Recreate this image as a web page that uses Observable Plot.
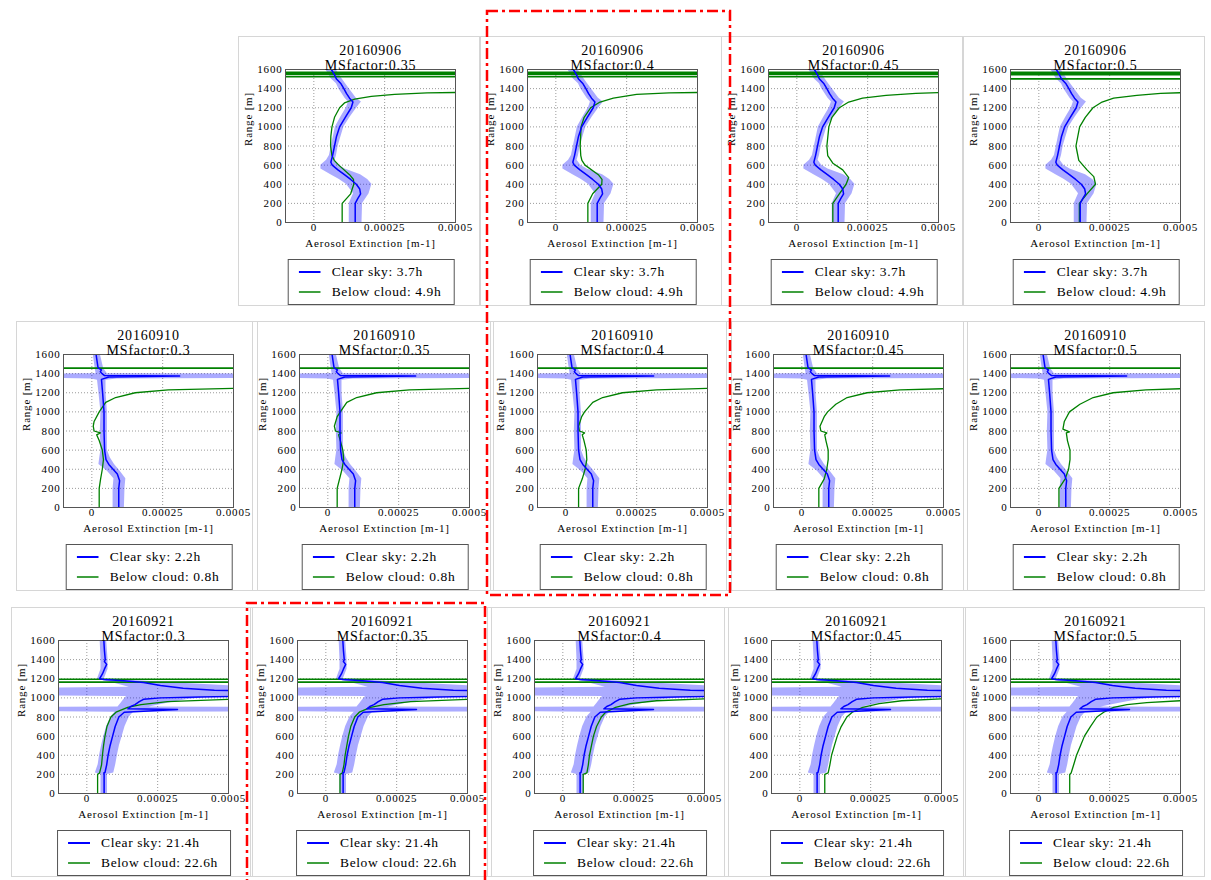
<!DOCTYPE html>
<html><head><meta charset="utf-8">
<script src="https://cdn.jsdelivr.net/npm/d3@7"></script>
<script src="https://cdn.jsdelivr.net/npm/@observablehq/plot@0.6"></script>
<style>
body{margin:0;background:#fff;}
#fig{position:relative;width:1211px;height:880px;overflow:hidden;font-family:"Liberation Serif",serif;background:#fff;}
.pframe{position:absolute;border:1px solid #d6d6d6;box-sizing:border-box;}
.plot{position:absolute;}
.legend{position:absolute;border:1px solid #555;background:#fff;padding:2px 12px 2px 10px;font-size:13.5px;letter-spacing:0.6px;transform:translateX(-50%);white-space:nowrap;box-sizing:border-box;font-family:"Liberation Serif",serif;}
.legend .row{display:flex;align-items:center;height:20px;}
.legend svg{margin-right:11px;display:block;}
#overlay{position:absolute;left:0;top:0;pointer-events:none;}
</style></head>
<body>
<div id="fig"></div>
<script>
// ---------------- DATA (extinction in units of 1e-4 m-1, range in m) ----------------
const dates = ["20160906", "20160910", "20160921"];
const msFactors = [0.3, 0.35, 0.4, 0.45, 0.5];
const clearHours = ["3.7", "2.2", "21.4"];
const belowHours = ["4.9", "0.8", "22.6"];
const xTicks = [0, 2.5, 5];
const xTickLabels = ["0", "0.00025", "0.0005"];
const yTicks = [0, 200, 400, 600, 800, 1000, 1200, 1400, 1600];

// clear sky mean profile [range, value]
const clearLine0906 = [[0,1.46],[200,1.46],[250,1.55],[300,1.65],[350,1.62],[400,1.50],[450,1.30],[500,1.08],[550,0.85],[600,0.65],[630,0.60],[700,0.66],[800,0.73],[900,0.80],[1000,0.91],[1100,1.11],[1200,1.32],[1260,1.38],[1300,1.26],[1350,1.15],[1400,1.06],[1450,0.96],[1500,0.80],[1550,0.72],[1600,0.62]];
const clearLine0910 = [[0,0.95],[200,0.95],[280,0.98],[350,0.90],[400,0.75],[450,0.60],[500,0.50],[600,0.45],[800,0.43],[1000,0.43],[1200,0.38],[1340,0.34],[1365,0.60],[1375,3.10],[1380,0.45],[1400,0.36],[1420,0.30],[1440,0.34],[1460,0.22],[1500,0.20],[1600,0.15]];
const clearLine0921 = [[0,0.61],[200,0.61],[215,0.60],[220,0.64],[300,0.70],[400,0.75],[500,0.82],[600,0.91],[700,1.00],[800,1.13],[850,1.32],[878,3.20],[885,1.45],[910,1.55],[930,1.70],[960,1.85],[985,2.00],[1000,2.60],[1010,4.00],[1020,6.50],[1070,6.50],[1080,4.50],[1100,3.40],[1130,2.60],[1160,2.00],[1180,1.30],[1192,0.60],[1200,0.45],[1250,0.55],[1300,0.62],[1350,0.70],[1380,0.62],[1400,0.65],[1500,0.62],[1600,0.60]];
// clear sky spread [range, low, high]
const clearBand0906 = [[0,1.25,1.70],[200,1.25,1.72],[300,1.40,1.95],[400,1.15,2.05],[450,0.90,1.90],[500,0.60,1.65],[560,0.25,1.10],[600,0.25,0.88],[650,0.45,0.75],[700,0.55,0.80],[800,0.62,0.86],[1000,0.76,1.06],[1100,0.95,1.28],[1200,1.15,1.52],[1260,1.22,1.68],[1300,1.10,1.50],[1400,0.88,1.25],[1450,0.80,1.12],[1500,0.62,1.00],[1600,0.42,0.78]];
const clearBand0910 = [[0,0.75,1.15],[200,0.75,1.17],[300,0.78,1.20],[380,0.55,1.00],[450,0.25,0.80],[520,0.28,0.65],[600,0.32,0.55],[800,0.30,0.55],[1000,0.32,0.55],[1200,0.25,0.50],[1330,0.20,0.50],[1345,0.00,0.90],[1352,-2,8],[1392,-2,8],[1400,0.15,0.55],[1450,0.12,0.42],[1600,0.05,0.30]];
const clearBand0921 = [[0,0.50,0.73],[200,0.50,0.73],[215,0.30,0.95],[300,0.40,1.02],[400,0.45,1.08],[500,0.52,1.15],[600,0.60,1.25],[700,0.70,1.35],[800,0.85,1.50],[850,1.00,1.65],[856,-2,8],[900,-2,8],[905,1.10,2.20],[940,1.20,2.80],[980,1.30,3.50],[1015,1.40,4.50],[1022,-2,8],[1100,-2,8],[1110,1.50,6.00],[1150,1.00,3.50],[1180,0.60,1.80],[1195,0.35,0.90],[1200,0.38,0.62],[1300,0.50,0.75],[1400,0.50,0.75],[1600,0.47,0.70]];
// below cloud profiles [range, value]
const below0906_035 = [[0,1.00],[200,1.00],[250,1.15],[300,1.30],[400,1.41],[450,1.40],[500,1.26],[600,0.88],[650,0.72],[700,0.64],[800,0.59],[900,0.60],[1000,0.64],[1100,0.73],[1200,0.91],[1250,1.08],[1290,1.44],[1320,2.03],[1340,2.85],[1355,4.0],[1362,5.5]];
const below0906_040 = [[0,1.13],[200,1.13],[300,1.30],[400,1.62],[450,1.63],[500,1.50],[600,1.03],[650,0.92],[700,0.88],[800,0.86],[1000,0.89],[1100,1.00],[1200,1.23],[1260,1.56],[1300,2.03],[1340,2.85],[1355,4.0],[1362,5.5]];
const below0906_045 = [[0,1.27],[200,1.27],[300,1.50],[400,1.74],[470,1.83],[550,1.62],[620,1.27],[700,1.09],[800,1.06],[1000,1.13],[1100,1.24],[1200,1.50],[1260,1.83],[1300,2.32],[1330,3.15],[1350,4.2],[1362,5.5]];
const below0906_050 = [[0,1.43],[200,1.43],[300,1.70],[400,2.00],[480,1.94],[550,1.70],[650,1.41],[800,1.31],[1000,1.44],[1100,1.64],[1200,1.91],[1260,2.23],[1300,2.64],[1330,3.46],[1350,4.3],[1362,5.5]];
const below0910_030 = [[0,0.26],[200,0.26],[300,0.31],[400,0.37],[500,0.41],[600,0.37],[700,0.26],[760,0.17],[780,0.30],[800,0.08],[850,0.05],[900,0.08],[1000,0.26],[1100,0.49],[1150,0.84],[1200,1.53],[1230,2.7],[1245,5.0],[1255,8]];
const below0910_035 = [[0,0.33],[200,0.33],[400,0.50],[500,0.56],[600,0.53],[700,0.44],[760,0.38],[780,0.47],[800,0.27],[850,0.23],[950,0.33],[1000,0.44],[1100,0.67],[1150,1.02],[1200,1.72],[1230,2.88],[1245,5.0],[1255,8]];
const below0910_040 = [[0,0.45],[200,0.45],[300,0.58],[400,0.68],[500,0.74],[600,0.72],[700,0.64],[760,0.58],[780,0.66],[800,0.48],[850,0.45],[950,0.56],[1000,0.66],[1100,0.95],[1150,1.30],[1200,2.00],[1230,3.2],[1245,5.0],[1255,8]];
const below0910_045 = [[0,0.60],[200,0.60],[300,0.79],[400,0.88],[500,0.93],[600,0.93],[700,0.85],[760,0.81],[780,0.88],[800,0.67],[850,0.64],[950,0.79],[1000,0.91],[1080,1.20],[1150,1.60],[1200,2.30],[1230,3.47],[1242,5.0],[1252,8]];
const below0910_050 = [[0,0.71],[200,0.71],[300,0.93],[400,1.05],[500,1.10],[600,1.10],[700,1.01],[780,0.97],[790,1.08],[820,0.85],[900,0.90],[1000,1.08],[1080,1.45],[1150,1.92],[1200,2.62],[1230,3.78],[1242,5.0],[1252,8]];
const below0921_030 = [[0,0.38],[200,0.38],[215,0.45],[300,0.52],[400,0.55],[500,0.59],[600,0.64],[700,0.71],[800,0.85],[850,1.03],[900,1.44],[930,1.91],[960,2.85],[985,5.0],[995,8]];
const below0921_035 = [[0,0.50],[200,0.50],[215,0.58],[300,0.64],[400,0.68],[500,0.74],[600,0.80],[700,0.88],[800,1.02],[850,1.18],[900,1.58],[930,2.05],[960,3.0],[985,5.0],[995,8]];
const below0921_040 = [[0,0.72],[200,0.72],[215,0.85],[300,0.90],[400,0.94],[500,1.01],[600,1.08],[700,1.19],[800,1.36],[850,1.51],[900,1.86],[940,2.38],[970,3.31],[990,5.0],[1000,8]];
const below0921_045 = [[0,0.88],[200,0.88],[215,1.00],[300,1.06],[400,1.12],[500,1.22],[600,1.32],[700,1.46],[800,1.66],[850,1.85],[900,2.22],[940,2.80],[970,3.6],[990,5.0],[1000,8]];
const below0921_050 = [[0,1.09],[200,1.09],[215,1.14],[300,1.23],[400,1.33],[500,1.47],[600,1.61],[700,1.82],[800,2.05],[850,2.29],[900,2.64],[930,3.11],[950,3.81],[970,5.0],[980,8]];
// below-cloud off-scale levels (cloud base) [range]
const cloud0906 = [1572, 1558, 1548, 1524];
const cloud0906_050 = [1572, 1556, 1546, 1502];
const cloud0910 = [1458];
const cloud0921 = [1165, 1195];

const clearLines = [clearLine0906, clearLine0910, clearLine0921];
const clearBands = [clearBand0906, clearBand0910, clearBand0921];
const belowProfiles = [
  [null, below0906_035, below0906_040, below0906_045, below0906_050],
  [below0910_030, below0910_035, below0910_040, below0910_045, below0910_050],
  [below0921_030, below0921_035, below0921_040, below0921_045, below0921_050]
];
const cloudLevels = [
  [null, cloud0906, cloud0906, cloud0906, cloud0906_050],
  [cloud0910, cloud0910, cloud0910, cloud0910, cloud0910],
  [cloud0921, cloud0921, cloud0921, cloud0921, cloud0921]
];

// ---------------- LAYOUT ----------------
const plotLeft = [[null, 285, 527, 768, 1010], [63, 299, 537, 773, 1010], [58, 297, 534, 771, 1010]];
const plotTop = [69, 354, 640];
const PW = 170, PH = 153, ML = 50, MR = 32, MT = 38, MB = 36;
const BLUE = "#0000ff", GREEN = "#008000";
const FONT = "Liberation Serif";

const fig = document.getElementById("fig");

function panel(r, c) {
  const px = plotLeft[r][c], py = plotTop[r];
  const fr = document.createElement("div");
  fr.className = "pframe";
  Object.assign(fr.style, {left: (px - 47) + "px", top: (py - 33) + "px", width: (PW + 72) + "px", height: "270px"});
  fig.appendChild(fr);

  const chart = Plot.plot({
    width: PW + ML + MR, height: PH + MT + MB,
    marginLeft: ML, marginRight: MR, marginTop: MT, marginBottom: MB,
    style: {fontFamily: FONT, fontSize: "11px", letterSpacing: "0.8px", background: "transparent", overflow: "visible", color: "#000"},
    x: {domain: [-1, 5], ticks: xTicks, tickFormat: d => xTickLabels[xTicks.indexOf(d)], tickSize: 0, tickPadding: 1, label: null},
    y: {domain: [0, 1600], ticks: yTicks, tickFormat: d => String(d), tickSize: 0, tickPadding: 3, label: null},
    marks: [
      Plot.ruleX(xTicks, {stroke: "#9a9a9a", strokeDasharray: "1,2"}),
      Plot.ruleY(yTicks, {stroke: "#9a9a9a", strokeDasharray: "1,2"}),
      Plot.areaX(clearBands[r], {y: d => d[0], x1: d => d[1], x2: d => d[2], fill: BLUE, fillOpacity: 0.33, clip: true}),
      Plot.ruleY(cloudLevels[r][c], {stroke: GREEN, strokeWidth: 1.6, clip: true}),
      Plot.lineX(belowProfiles[r][c], {x: d => d[1], y: d => d[0], stroke: GREEN, strokeWidth: 1.3, clip: true}),
      Plot.lineX(clearLines[r], {x: d => d[1], y: d => d[0], stroke: BLUE, strokeWidth: 1.5, clip: true}),
      Plot.frame({stroke: "#555"}),
      Plot.text([dates[r]], {text: d => d, frameAnchor: "top", dy: -24, fontSize: 14, letterSpacing: "1px"}),
      Plot.text(["MSfactor:" + msFactors[c]], {text: d => d, frameAnchor: "top", dy: -9, fontSize: 14}),
      Plot.text(["Aerosol Extinction [m-1]"], {text: d => d, frameAnchor: "bottom", dy: 24, fontSize: 11}),
      Plot.text(["Range [m]"], {text: d => d, frameAnchor: "left", dx: -37, rotate: -90, fontSize: 11})
    ]
  });
  chart.classList.add("plot");
  chart.style.left = (px - ML) + "px";
  chart.style.top = (py - MT) + "px";
  fig.appendChild(chart);

  const lg = document.createElement("div");
  lg.className = "legend";
  lg.style.left = (px + PW / 2 + 1) + "px";
  lg.style.top = (py + 190) + "px";
  const items = [["Clear sky: " + clearHours[r] + "h", BLUE, 2], ["Below cloud: " + belowHours[r] + "h", GREEN, 1.5]];
  for (const [label, color, w] of items) {
    const row = document.createElement("div");
    row.className = "row";
    row.innerHTML = `<svg width="22" height="6"><line x1="0" x2="22" y1="3" y2="3" stroke="${color}" stroke-width="${w}"/></svg><span>${label}</span>`;
    lg.appendChild(row);
  }
  fig.appendChild(lg);
}

for (let r = 0; r < 3; r++) for (let c = 0; c < 5; c++) if (belowProfiles[r][c]) panel(r, c);

// red dash-dot highlight frames (annotation)
const ov = d3.select(fig).append("svg").attr("id", "overlay").attr("width", 1211).attr("height", 880);
const hl = ["M487,11H730V595H487Z", "M247,890V603H485V890"];
ov.selectAll("path").data(hl).join("path")
  .attr("d", d => d).attr("fill", "none").attr("stroke", "#ff0000")
  .attr("stroke-width", 2.5).attr("stroke-dasharray", "11,4,3,4");
</script>
</body></html>
